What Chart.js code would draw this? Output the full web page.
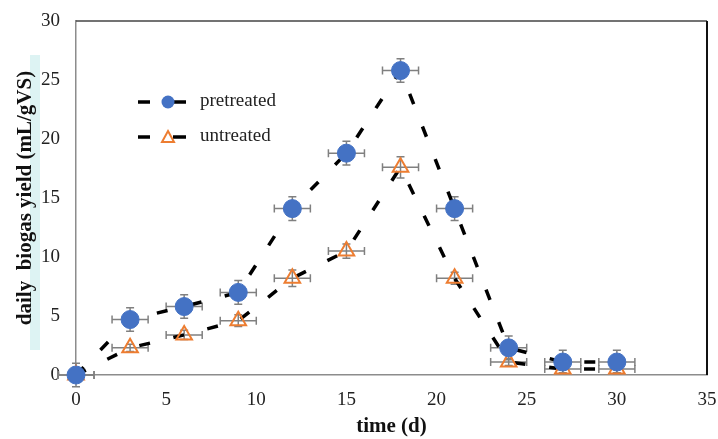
<!DOCTYPE html>
<html>
<head>
<meta charset="utf-8">
<script src="https://cdn.jsdelivr.net/npm/chart.js@4.4.0/dist/chart.umd.min.js"></script>
<style>
  body { margin: 0; background: #fff; }
  #wrap { width: 718px; height: 439px; }
</style>
</head>
<body>
<div id="wrap"><canvas id="biogas"></canvas></div>
<script>
const days = [0, 3, 6, 9, 12, 15, 18, 21, 24, 27, 30];
const pretreated = [0, 4.7, 5.8, 7.0, 14.1, 18.8, 25.8, 14.1, 2.3, 1.1, 1.1];
const untreated = [0, 2.3, 3.4, 4.6, 8.2, 10.5, 17.6, 8.2, 1.1, 0.5, 0.5];
const pretreatedErr = [1, 1, 1, 1, 1, 1, 1, 1, 1, 1, 1];
const untreatedErr = [0.3, 0.3, 0.4, 0.5, 0.7, 0.6, 0.9, 0.5, 0.3, 0.3, 0.3];
const dayErr = 1;

const serif = "'Liberation Serif', 'Times New Roman', serif";
const blue = "#4472C4";
const orange = "#ED7D31";

function toPoints(vals) {
  return days.map((d, i) => ({ x: d, y: vals[i] }));
}

// error bars, drawn under the lines and markers
const errorBars = {
  id: "errorBars",
  beforeDatasetsDraw(chart) {
    const { ctx, scales: { x, y } } = chart;
    const sets = [[pretreated, pretreatedErr], [untreated, untreatedErr]];
    ctx.save();
    ctx.strokeStyle = "#808080";
    ctx.lineWidth = 1.5;
    const cap = 4;
    sets.forEach(([vals, errs]) => {
      vals.forEach((v, i) => {
        const px = x.getPixelForValue(days[i]);
        const py = y.getPixelForValue(v);
        const x0 = x.getPixelForValue(days[i] - dayErr);
        const x1 = x.getPixelForValue(days[i] + dayErr);
        const y0 = y.getPixelForValue(v - errs[i]);
        const y1 = y.getPixelForValue(v + errs[i]);
        ctx.beginPath();
        ctx.moveTo(x0, py); ctx.lineTo(x1, py);
        ctx.moveTo(x0, py - cap); ctx.lineTo(x0, py + cap);
        ctx.moveTo(x1, py - cap); ctx.lineTo(x1, py + cap);
        ctx.moveTo(px, y0); ctx.lineTo(px, y1);
        ctx.moveTo(px - cap, y0); ctx.lineTo(px + cap, y0);
        ctx.moveTo(px - cap, y1); ctx.lineTo(px + cap, y1);
        ctx.stroke();
      });
    });
    ctx.restore();
  },
};

// frame on top/right, cyan highlight behind y title, and the legend
const decor = {
  id: "decor",
  beforeDraw(chart) {
    const { ctx } = chart;
    ctx.save();
    ctx.fillStyle = "#DDF3F3";
    ctx.fillRect(30, 55, 10, 295);
    ctx.restore();
  },
  afterDraw(chart) {
    const { ctx, chartArea: a } = chart;
    ctx.save();
    ctx.strokeStyle = "#444";
    ctx.lineWidth = 1.5;
    ctx.beginPath();
    ctx.moveTo(a.left, a.top);
    ctx.lineTo(a.right, a.top);
    ctx.stroke();
    ctx.strokeStyle = "#111";
    ctx.lineWidth = 2;
    ctx.beginPath();
    ctx.moveTo(a.right, a.top);
    ctx.lineTo(a.right, a.bottom);
    ctx.stroke();

    // legend
    const rows = [
      { label: chart.data.datasets[0].label, y: 102, style: "circle" },
      { label: chart.data.datasets[1].label, y: 137, style: "triangle" },
    ];
    rows.forEach((r) => {
      ctx.strokeStyle = "#000";
      ctx.lineWidth = 3.5;
      ctx.beginPath();
      ctx.moveTo(138, r.y); ctx.lineTo(150, r.y);
      ctx.moveTo(173, r.y); ctx.lineTo(186, r.y);
      ctx.stroke();
      if (r.style === "circle") {
        ctx.fillStyle = blue;
        ctx.beginPath();
        ctx.arc(168, r.y, 6.5, 0, Math.PI * 2);
        ctx.fill();
      } else {
        ctx.strokeStyle = orange;
        ctx.lineWidth = 2;
        ctx.beginPath();
        ctx.moveTo(168, r.y - 6);
        ctx.lineTo(174, r.y + 5);
        ctx.lineTo(162, r.y + 5);
        ctx.closePath();
        ctx.stroke();
      }
      ctx.fillStyle = "#222";
      ctx.font = "19px " + serif;
      ctx.textBaseline = "middle";
      ctx.fillText(r.label, 200, r.y - 1);
    });
    ctx.restore();
  },
};

new Chart(document.getElementById("biogas"), {
  type: "line",
  data: {
    datasets: [
      {
        label: "pretreated",
        data: toPoints(pretreated),
        borderColor: "#000",
        borderWidth: 3.5,
        borderDash: [11, 24],
        pointStyle: "circle",
        pointRadius: 9,
        pointBackgroundColor: blue,
        pointBorderColor: blue,
        pointBorderWidth: 1,
        clip: false,
      },
      {
        label: "untreated",
        data: toPoints(untreated),
        borderColor: "#000",
        borderWidth: 3.5,
        borderDash: [11, 24],
        pointStyle: "triangle",
        pointRadius: 9,
        pointBackgroundColor: "rgba(255,255,255,0)",
        pointBorderColor: orange,
        pointBorderWidth: 2,
        clip: false,
      },
    ],
  },
  options: {
    responsive: true,
    maintainAspectRatio: false,
    animation: false,
    layout: { padding: 0 },
    plugins: {
      legend: { display: false },
      tooltip: { enabled: false },
    },
    scales: {
      x: {
        type: "linear",
        min: 0,
        max: 35,
        grid: { display: false, drawTicks: false },
        border: { color: "#8c8c8c", width: 1.5 },
        ticks: {
          stepSize: 5,
          padding: 14,
          color: "#222",
          font: { family: serif, size: 19 },
        },
        title: {
          display: true,
          text: "time (d)",
          color: "#111",
          padding: { top: 0, bottom: 0 },
          font: { family: serif, size: 21, weight: "bold" },
        },
        afterFit(scale) {
          scale.height = 64;
          scale.paddingLeft = 0;
          scale.paddingRight = 11;
        },
      },
      y: {
        min: 0,
        max: 30,
        grid: { display: false, drawTicks: false },
        border: { color: "#8c8c8c", width: 1.5 },
        ticks: {
          stepSize: 5,
          padding: 16,
          color: "#222",
          font: { family: serif, size: 19 },
        },
        title: {
          display: true,
          text: "daily  biogas yield (mL/gVS)",
          color: "#111",
          padding: { top: 13, bottom: 0 },
          font: { family: serif, size: 21, weight: "bold" },
        },
        afterFit(scale) {
          scale.width = 76;
          scale.paddingTop = 21;
          scale.paddingBottom = 0;
        },
      },
    },
  },
  plugins: [errorBars, decor],
});
</script>
</body>
</html>
